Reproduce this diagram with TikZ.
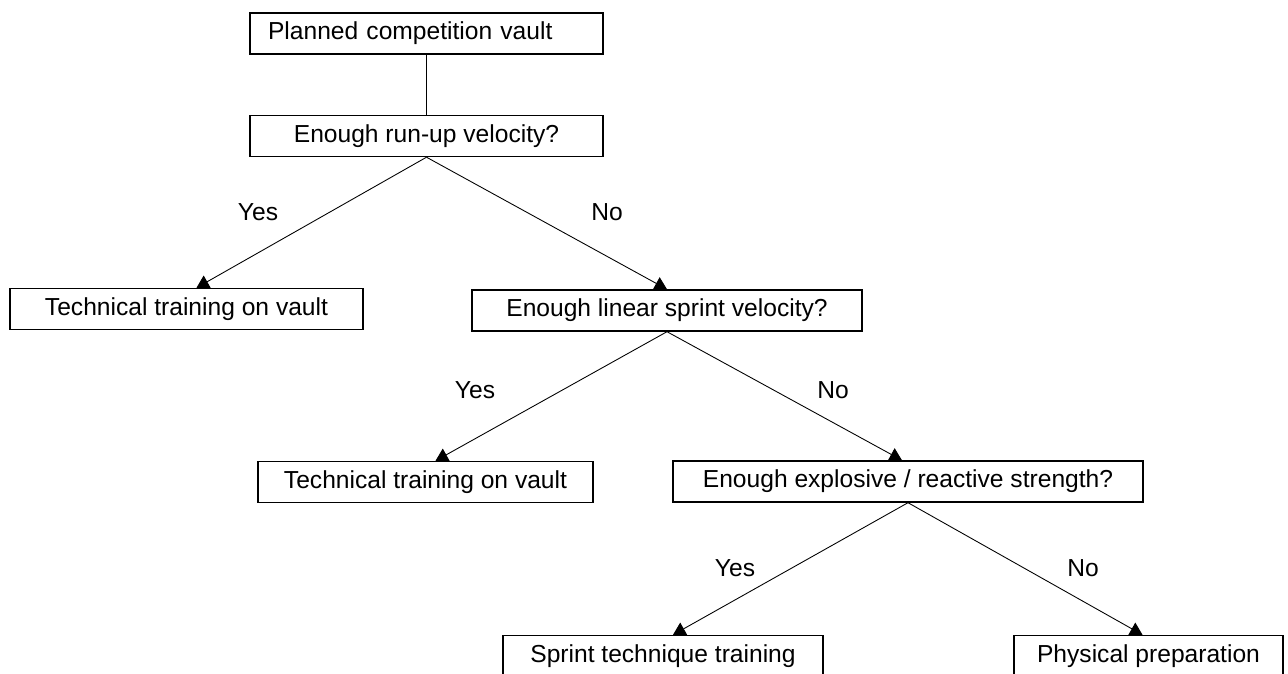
\documentclass[tikz,border=0pt]{standalone}
\usepackage{fontspec}
\setmainfont{Liberation Sans}
\usetikzlibrary{arrows.meta}

\tikzset{
  box/.style={draw, line width=0.8pt, minimum height=0.82cm, inner sep=0pt, font=\fontsize{14}{16}\selectfont},
  link/.style={line width=0.5pt, -{Triangle[width=8pt,length=7pt]}},
  answer/.style={font=\fontsize{14}{16}\selectfont}
}

\begin{document}
\begin{tikzpicture}[x=0.02cm, y=-0.02cm]
\useasboundingbox (0,0) rectangle (1288,673);

\node[box, text width=6.34cm, inner xsep=0.36cm, align=left] (plan) at (426.5,33.5) {Planned competition vault};
\node[box, minimum width=7.06cm] (runup) at (426.5,136) {Enough run-up velocity?};
\node[box, minimum width=7.06cm] (tech1) at (186.5,309) {Technical training on vault};
\node[box, minimum width=7.8cm] (sprint) at (667,310.5) {Enough linear sprint velocity?};
\node[box, minimum width=6.7cm] (tech2) at (425.5,482) {Technical training on vault};
\node[box, minimum width=9.4cm] (power) at (908,481.5) {Enough explosive / reactive strength?};
\node[box, minimum width=6.4cm] (drill) at (663,656) {Sprint technique training};
\node[box, minimum width=5.38cm] (prep) at (1148.5,656) {Physical preparation};

\draw[line width=0.5pt] (plan) -- (runup);
\draw[link] (runup.south) -- ([xshift=0.2cm]tech1.north);
\draw[link] (runup.south) -- (sprint.north);
\draw[link] (sprint.south) -- ([xshift=0.2cm]tech2.north);
\draw[link] (sprint.south) -- ([xshift=-0.12cm]power.north);
\draw[link] (power.south) -- ([xshift=0.2cm]drill.north);
\draw[link] (power.south) -- ([xshift=-0.12cm]prep.north);

\node[answer] (yes1) at (258,212) {Yes};
\node[answer] (no1) at (607,212) {No};
\node[answer] (yes2) at (475,390) {Yes};
\node[answer] (no2) at (833,390) {No};
\node[answer] (yes3) at (735,568) {Yes};
\node[answer] (no3) at (1083,568) {No};
\end{tikzpicture}
\end{document}
